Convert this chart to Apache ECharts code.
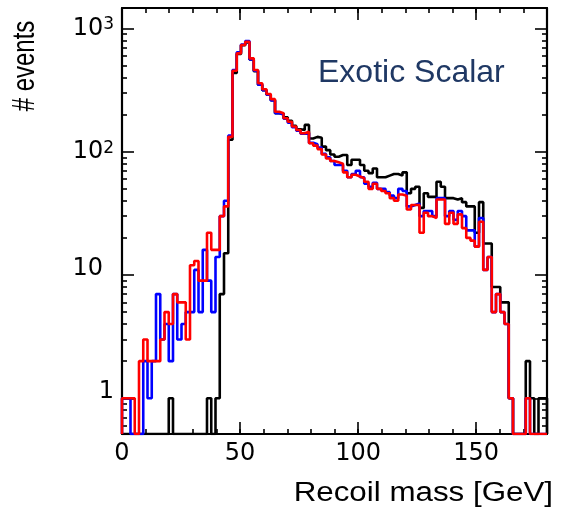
<!DOCTYPE html>
<html>
<head>
<meta charset="utf-8">
<script src="https://cdn.jsdelivr.net/npm/echarts@6/dist/echarts.min.js"></script>
<style>
html, body { margin: 0; padding: 0; background: #fff; }
#main { width: 561px; height: 526px; }
</style>
</head>
<body>
<div id="main"></div>
<script>
// 100 bins of 1.8 GeV from 0 to 180
var binWidth = 1.8;

var blackCounts = [0,0,0,0,0,0,0,0,0,0,
    0,1,0,0,0,0,0,0,0,0,
    1,0,1,7,15,125,435,620,730,770,
    560,450,350,315,290,262,205,205,190,178,
    162,152,150,165,128,132,130,110,103,95,
    91,94,94,78,86,86,78,70,67,73,
    62,62,64,66,66,64,68,46,50,52,
    35,46,43,43,57,52,42,42,41,42,
    39,36,36,22,39,18,18,8,8,6,
    6,1,0,0,0,2,1,0,1,1];

var blueCounts = [1,1,0,0,0,2,1,2,7,3,
    4,2,7,3,4,5,5,11,5,16,
    9,5,14,30,40,135,460,640,740,790,
    560,455,350,315,290,260,205,200,185,172,
    158,148,140,142,118,115,108,96,90,84,
    78,78,70,62,66,70,62,55,52,56,
    50,50,47,44,42,50,48,36,37,38,
    30,33,33,30,42,42,30,33,28,33,
    30,23,23,17,29,11,14,5,7,5,
    4,1,0,0,0,1,0,0,0,0];

var redCounts = [1,1,1,0,2,3,2,2,2,3,
    5,4,7,6,6,3,12,13,9,9,
    22,16,16,30,36,132,454,628,733,780,
    572,460,359,321,294,267,211,205,187,175,
    160,150,141,145,117,112,105,95,88,84,
    82,80,68,62,65,63,61,57,50,55,
    50,48,46,42,40,45,44,34,37,37,
    22,32,30,29,41,41,26,32,26,31,
    24,20,19,17,27,11,14,5,7,5,
    4,1,0,0,0,1,0,0,0,0];

var xLabelValues = [0, 50, 100, 150];
var yLabelValues = [1, 10, 100, 1000];

// minor log ticks 2..9 in every decade
var yMinorValues = [0.6, 0.7, 0.8, 0.9];
[1, 10, 100].forEach(function (d) {
    for (var k = 2; k <= 9; k++) yMinorValues.push(k * d);
});

var yMin = 0.513, yMax = 1465;

// step outline; empty bins are drawn on the frame bottom like ROOT does
function histPoints(counts) {
    var floor = yMin;
    var n = counts.length;
    var pts = [[0, floor]];
    for (var i = 0; i < n; i++) {
        pts.push([i * binWidth, counts[i] > 0 ? counts[i] : floor]);
    }
    pts.push([n * binWidth, counts[n - 1] > 0 ? counts[n - 1] : floor]);
    pts.push([n * binWidth, floor]);
    return pts;
}

function histSeries(name, counts, color) {
    return {
        name: name,
        type: 'line',
        step: 'end',
        symbol: 'none',
        clip: true,
        lineStyle: { color: color, width: 2.6 },
        itemStyle: { color: color },
        data: histPoints(counts)
    };
}

var tickLine = { color: '#000', width: 1.6 };
var frameLine = { show: true, onZero: false, lineStyle: { color: '#000', width: 2.2 } };
var noLine = { show: false, onZero: false };

function xAxisOf(pos, major, withLabels) {
    var ax = {
        type: 'value', position: pos, min: 0, max: 180, interval: 10,
        axisLine: major ? noLine : frameLine,
        axisTick: { inside: true, length: major ? 12 : 5, lineStyle: tickLine },
        axisLabel: { show: false },
        splitLine: { show: false }
    };
    if (major) ax.axisTick.customValues = xLabelValues;
    if (withLabels) {
        ax.axisLabel = {
            show: true, customValues: xLabelValues, margin: 8,
            color: '#000', fontFamily: 'DejaVu Sans', fontSize: 24
        };
    }
    return ax;
}

function yAxisOf(pos, major, withLabels) {
    var ax = {
        type: 'log', logBase: 10, position: pos, min: yMin, max: yMax,
        axisLine: major ? frameLine : noLine,
        axisTick: { inside: true, length: major ? 12 : 5, lineStyle: tickLine,
            customValues: major ? yLabelValues : yMinorValues },
        axisLabel: { show: false },
        splitLine: { show: false }
    };
    if (withLabels) {
        ax.axisLabel = {
            show: true, customValues: yLabelValues, margin: 8,
            color: '#000', fontFamily: 'DejaVu Sans', fontSize: 24,
            formatter: function (v) {
                var e = Math.round(Math.log10(v));
                if (e === 0) return '{n|1}';
                if (e === 1) return '{t|10}';
                return '{b|10}{s|' + e + '}';
            },
            rich: {
                n: { fontSize: 24, lineHeight: 24, padding: [0, 0, 12, 0] },
                t: { fontSize: 24, lineHeight: 24, padding: [0, 11, 12, 0] },
                b: { fontSize: 24, lineHeight: 24 },
                s: { fontSize: 17, lineHeight: 12, verticalAlign: 'top' }
            }
        };
    }
    return ax;
}

var myChart = echarts.init(document.getElementById('main'));

var option = {
    animation: false,
    backgroundColor: '#fff',
    grid: { left: 122, right: 14, top: 8, bottom: 92 },
    xAxis: [
        xAxisOf('bottom', false, true),
        xAxisOf('bottom', true, false),
        xAxisOf('top', false, false),
        xAxisOf('top', true, false)
    ],
    yAxis: [
        yAxisOf('left', true, true),
        yAxisOf('left', false, false),
        yAxisOf('right', true, false),
        yAxisOf('right', false, false)
    ],
    graphic: [
        {
            type: 'text', x: 25, y: 66, rotation: Math.PI / 2, scaleY: 1.3,
            style: { text: '# events', font: '24px "Liberation Sans"', fill: '#000',
                textAlign: 'center', textVerticalAlign: 'middle' }
        },
        {
            type: 'text', x: 553, y: 494, scaleX: 1.16,
            style: { text: 'Recoil mass [GeV]', font: '27px "Liberation Sans"', fill: '#000',
                textAlign: 'right', textVerticalAlign: 'middle' }
        },
        {
            type: 'text', x: 318, y: 73,
            style: { text: 'Exotic Scalar', font: '32px "Liberation Sans"', fill: '#1f3864',
                textAlign: 'left', textVerticalAlign: 'middle' }
        }
    ],
    series: [
        histSeries('black', blackCounts, '#000000'),
        histSeries('blue', blueCounts, '#0000ff'),
        histSeries('red', redCounts, '#ff0000')
    ]
};

myChart.setOption(option);
</script>
</body>
</html>
